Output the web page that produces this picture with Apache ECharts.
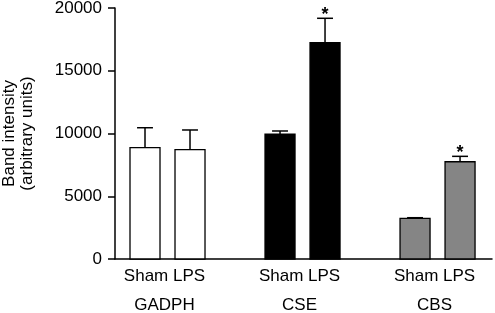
<!DOCTYPE html>
<html>
<head>
<meta charset="utf-8">
<script src="https://cdn.jsdelivr.net/npm/echarts@6/dist/echarts.min.js"></script>
<style>
  html, body { margin: 0; padding: 0; background: #fff; }
  #chart { width: 495px; height: 313px; }
</style>
</head>
<body>
<div id="chart"></div>
<script>
const groups = ['GADPH', 'CSE', 'CBS'];
const conditions = ['Sham', 'LPS'];
const meanValues = [8870, 8710, 9940, 17240, 3240, 7750];
const errorValues = [1590, 1570, 260, 1940, 50, 430];
const significant = [false, false, false, true, false, true];
const groupFills = ['#ffffff', '#000000', '#858585'];

const FONT = '"Liberation Sans", Arial, sans-serif';

// x is measured in slots: each group takes 9 slots, bars 3 apart
const barData = meanValues.map((v, i) => {
  const g = Math.floor(i / 2);
  const m = i % 2;
  return [2 + 9 * g + 3 * m, v, errorValues[i], significant[i] ? 1 : 0, g, m];
});

function renderBar(params, api) {
  const x = api.value(0);
  const y = api.value(1);
  const err = api.value(2);
  const sig = api.value(3);
  const g = api.value(4);
  const m = api.value(5);
  const slot = api.size([1, 0])[0];
  const barW = slot * 2;
  const capHalf = slot * 0.53;
  const base = api.coord([x, 0]);
  const top = api.coord([x, y]);
  const errTop = api.coord([x, y + err]);
  const cx = base[0];

  const children = [
    {
      type: 'line',
      shape: { x1: cx, y1: top[1], x2: cx, y2: errTop[1] },
      style: { stroke: '#000', lineWidth: 1.5 }
    },
    {
      type: 'line',
      shape: { x1: cx - capHalf, y1: errTop[1], x2: cx + capHalf, y2: errTop[1] },
      style: { stroke: '#000', lineWidth: 1.5 }
    },
    {
      type: 'rect',
      shape: { x: cx - barW / 2, y: top[1], width: barW, height: base[1] - top[1] },
      style: { fill: groupFills[g], stroke: '#000', lineWidth: 1.3 }
    }
  ];

  if (sig) {
    children.push({
      type: 'text',
      x: cx,
      y: errTop[1] - 3,
      style: {
        text: '*',
        fill: '#000',
        font: 'bold 18px ' + FONT,
        align: 'center',
        verticalAlign: 'middle'
      }
    });
  }

  if (m === 0) {
    const mid = api.coord([x + 1.5, 0]);
    children.push({
      type: 'text',
      x: mid[0] - 3,
      y: base[1] + 17,
      style: {
        text: conditions.join(' '),
        fill: '#000',
        font: '17px ' + FONT,
        align: 'center',
        verticalAlign: 'middle'
      }
    });
    children.push({
      type: 'text',
      x: mid[0] - 3,
      y: base[1] + 46,
      style: {
        text: groups[g],
        fill: '#000',
        font: '17px ' + FONT,
        align: 'center',
        verticalAlign: 'middle'
      }
    });
  }

  return { type: 'group', children };
}

const chart = echarts.init(document.getElementById('chart'), null, { renderer: 'canvas' });

chart.setOption({
  animation: false,
  grid: {
    left: 115,
    right: 3,
    top: 8,
    bottom: 54,
    outerBoundsMode: 'none'
  },
  xAxis: {
    type: 'value',
    min: 0,
    max: 25.13,
    axisLine: { show: true, onZero: false, lineStyle: { color: '#000', width: 1.5 } },
    axisTick: { show: false },
    axisLabel: { show: false },
    splitLine: { show: false }
  },
  yAxis: {
    type: 'value',
    min: 0,
    max: 20000,
    interval: 5000,
    name: 'Band intensity\n(arbitrary units)',
    nameLocation: 'middle',
    nameRotate: 90,
    nameGap: 79,
    nameTextStyle: {
      fontFamily: FONT,
      fontSize: 17,
      color: '#000',
      lineHeight: 18
    },
    axisLine: { show: true, lineStyle: { color: '#000', width: 1.5 } },
    axisTick: { show: true, length: 7, lineStyle: { color: '#000', width: 1.5 } },
    axisLabel: {
      margin: 13,
      color: '#000',
      fontFamily: FONT,
      fontSize: 17,
      formatter: (v) => String(v)
    },
    splitLine: { show: false }
  },
  series: [
    {
      type: 'custom',
      renderItem: renderBar,
      clip: false,
      data: barData
    }
  ]
});
</script>
</body>
</html>
